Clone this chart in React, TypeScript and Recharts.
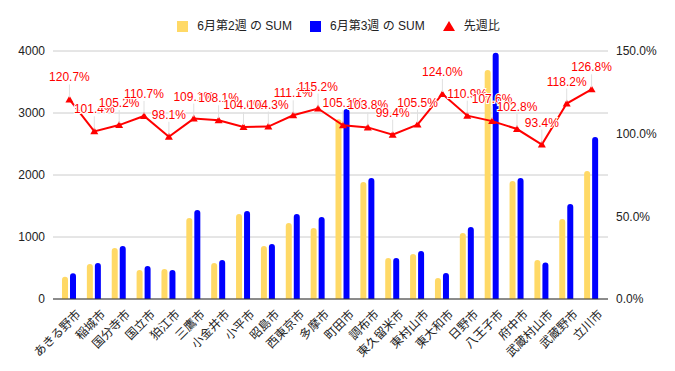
import React from "react";
import {
  Bar,
  CartesianGrid,
  ComposedChart,
  LabelList,
  Line,
  XAxis,
  YAxis,
} from "recharts";

const cities = [
  "あきる野市", "稲城市", "国分寺市", "国立市", "狛江市", "三鷹市", "小金井市",
  "小平市", "昭島市", "西東京市", "多摩市", "町田市", "調布市", "東久留米市",
  "東村山市", "東大和市", "日野市", "八王子市", "府中市", "武蔵村山市",
  "武蔵野市", "立川市",
];
const week2 = [
  360, 565, 822, 468, 484, 1306, 580, 1371, 855, 1226, 1145, 2900, 1887, 661,
  726, 339, 1065, 3694, 1903, 629, 1290, 2065,
];
const week3 = [
  414, 580, 855, 532, 468, 1435, 629, 1419, 887, 1371, 1323, 3065, 1952, 661,
  774, 419, 1161, 3973, 1952, 588, 1532, 2613,
];
const ratio = [
  120.7, 101.4, 105.2, 110.7, 98.1, 109.1, 108.1, 104.0, 104.3, 111.1, 115.2,
  105.1, 103.8, 99.4, 105.5, 124.0, 110.9, 107.6, 102.8, 93.4, 118.2, 126.8,
];
const leftTicks = [0, 1000, 2000, 3000, 4000];
const rightTicks = [0, 50, 100, 150];

const data = cities.map((name, i) => ({
  name,
  w2: week2[i],
  w3: week3[i],
  ratio: ratio[i],
}));

const FONT = "'Liberation Sans', Arial, 'Noto Sans CJK JP', sans-serif";
const YELLOW = "#ffd966";
const BLUE = "#0000ff";
const RED = "#ff0000";

function Triangle({ cx, cy }: any) {
  if (cx == null || cy == null) return null;
  return (
    <path
      d={`M${cx},${cy - 4} L${cx + 4},${cy + 3} L${cx - 4},${cy + 3} Z`}
      fill={RED}
    />
  );
}

function XTick({ x, y, payload }: any) {
  return (
    <g transform={`translate(${x + 6},${y + 2})`}>
      <text
        x={0}
        y={0}
        dy="0.7em"
        textAnchor="end"
        transform="rotate(-45)"
        fontSize={12}
        fill="#222"
        fontFamily={FONT}
      >
        {payload.value}
      </text>
    </g>
  );
}

function RatioLabel({ x, y, value }: any) {
  return (
    <g>
      <line x1={x} x2={x} y1={y - 15} y2={y - 2} stroke="#e0e0e0" strokeWidth={1} />
      <text
        x={x}
        y={y - 18}
        textAnchor="middle"
        fontSize={12}
        fill={RED}
        stroke="#fff"
        strokeWidth={2}
        paintOrder="stroke"
        fontFamily={FONT}
      >
        {Number(value).toFixed(1)}%
      </text>
    </g>
  );
}

function LegendBox() {
  const item = { display: "flex", alignItems: "center", marginRight: 18 } as const;
  const sq = (c: string) => (
    <span style={{ width: 11, height: 11, background: c, marginRight: 9, display: "inline-block" }} />
  );
  return (
    <div
      style={{
        position: "absolute",
        top: 18,
        left: 0,
        width: 675,
        display: "flex",
        justifyContent: "center",
        fontSize: 12,
        lineHeight: "16px",
        color: "#222",
        fontFamily: FONT,
        paddingLeft: 20,
        boxSizing: "border-box",
        zIndex: 2,
      }}
    >
      <div style={item}>
        {sq(YELLOW)}6月第2週 の SUM
      </div>
      <div style={item}>
        {sq(BLUE)}6月第3週 の SUM
      </div>
      <div style={item}>
        <svg width={12} height={11} style={{ marginRight: 9 }}>
          <path d="M6,0 L12,10 L0,10 Z" fill={RED} />
        </svg>
        先週比
      </div>
    </div>
  );
}

export default function App() {
  return (
    <div style={{ position: "absolute", left: 0, top: 0, width: 675, height: 371, background: "#fff" }}>
      <LegendBox />
      <ComposedChart
        width={675}
        height={371}
        data={data}
        margin={{ top: 51, right: 0, bottom: 0, left: 0 }}
        barGap={2}
        barSize={6}
        style={{ fontFamily: FONT }}
      >
        <CartesianGrid yAxisId="left" vertical={false} stroke="#cccccc" />
        <XAxis
          dataKey="name"
          interval={0}
          height={72}
          tickLine={false}
          axisLine={{ stroke: "#333" }}
          padding={{ left: 4, right: 4 }}
          tick={<XTick />}
        />
        <YAxis
          yAxisId="left"
          width={53}
          domain={[0, 4000]}
          ticks={leftTicks}
          tickLine={false}
          axisLine={false}
          tick={{ fontSize: 12, fill: "#222" }}
        />
        <YAxis
          yAxisId="right"
          orientation="right"
          width={67}
          domain={[0, 150]}
          ticks={rightTicks}
          tickLine={false}
          axisLine={false}
          tick={{ fontSize: 12, fill: "#222" }}
          tickFormatter={(v) => `${Number(v).toFixed(1)}%`}
        />
        <Bar
          yAxisId="left"
          dataKey="w2"
          name="6月第2週 の SUM"
          fill={YELLOW}
          radius={[3, 3, 0, 0]}
          isAnimationActive={false}
        />
        <Bar
          yAxisId="left"
          dataKey="w3"
          name="6月第3週 の SUM"
          fill={BLUE}
          radius={[3, 3, 0, 0]}
          isAnimationActive={false}
        />
        <Line
          yAxisId="right"
          dataKey="ratio"
          name="先週比"
          stroke={RED}
          strokeWidth={2}
          dot={<Triangle />}
          activeDot={false}
          isAnimationActive={false}
        >
          <LabelList dataKey="ratio" content={<RatioLabel />} />
        </Line>
      </ComposedChart>
    </div>
  );
}
